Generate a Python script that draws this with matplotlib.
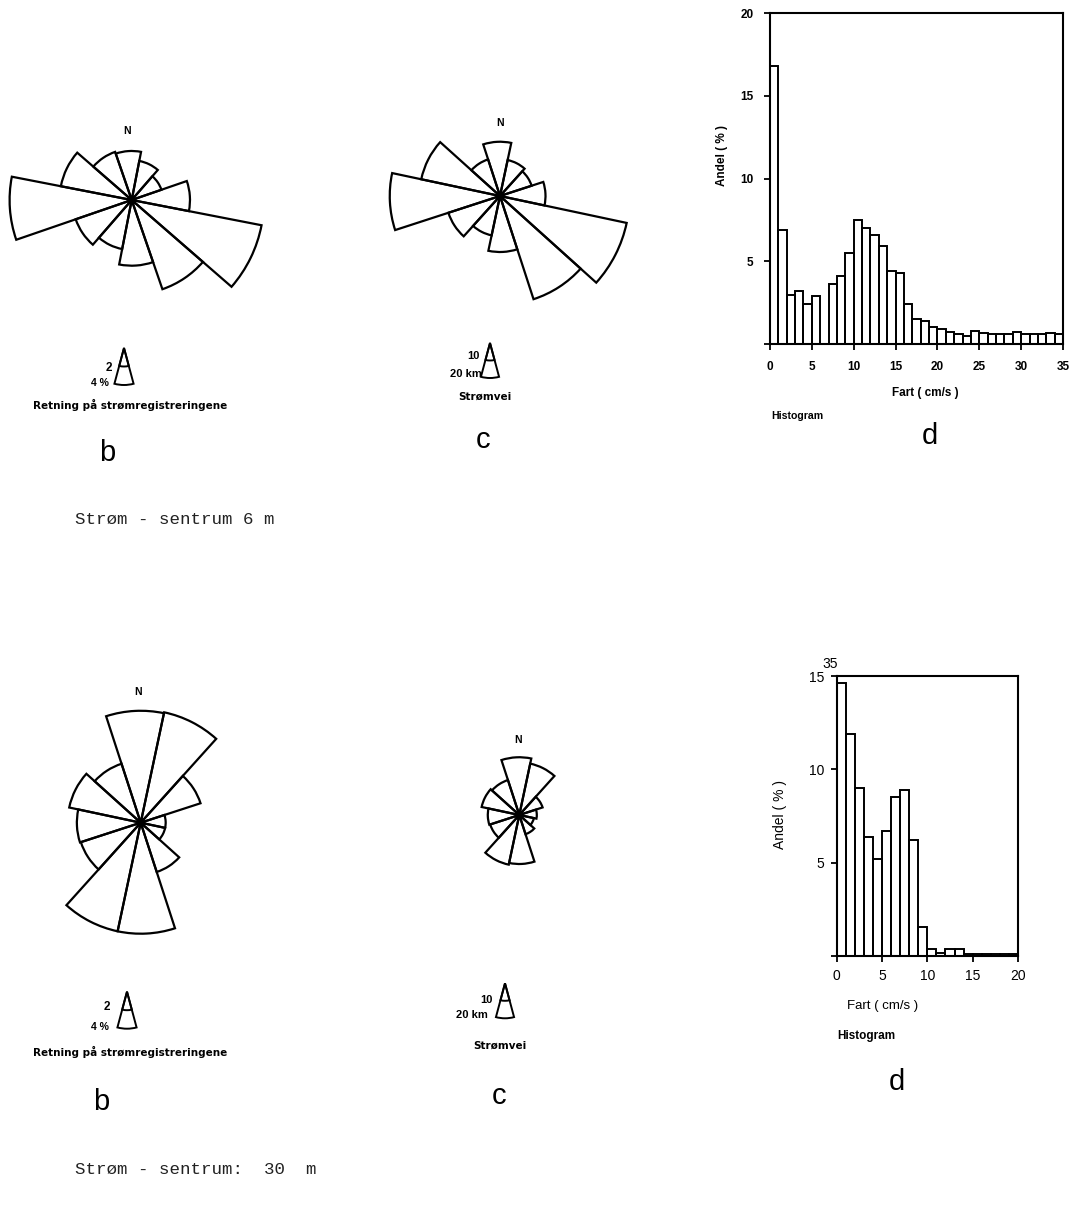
import numpy as np
import matplotlib
matplotlib.use("Agg")
import matplotlib.pyplot as plt

plt.rcParams['font.family'] = ['Liberation Sans', 'DejaVu Sans']

W, H = 1078, 1211

# sector directions, degrees from north (clockwise), 30 degree sectors
sektor = [0, 30, 60, 90, 120, 150, 180, 210, 240, 270, 300, 330]

# 6 m: direction of the current records (%) and current path (km)
retning_6m = [5.3, 4.3, 3.4, 6.3, 14.3, 10.2, 7.1, 5.4, 6.4, 13.2, 7.8, 5.5]
stromvei_6m = [31, 21, 19, 26, 74, 62, 32, 23, 31, 63, 46, 22]

# 30 m
retning_30m = [12.1, 12.2, 6.8, 2.7, 2.7, 5.6, 12.0, 12.0, 6.8, 6.9, 7.9, 6.7]
stromvei_30m = [33, 30, 14, 10, 8.5, 11.5, 28, 29, 17.5, 18, 22, 21]

# speed histograms, 1 cm/s bins starting at 0
andel_6m = [16.8, 6.9, 2.95, 3.2, 2.4, 2.9, 0, 3.6, 4.1, 5.5, 7.5, 7.0, 6.6, 5.9,
            4.4, 4.3, 2.4, 1.5, 1.4, 1.05, 0.9, 0.73, 0.6, 0.5, 0.8, 0.65, 0.6,
            0.6, 0.6, 0.7, 0.6, 0.6, 0.6, 0.65, 0.6]
andel_30m = [14.6, 11.9, 9.0, 6.4, 5.2, 6.7, 8.5, 8.9, 6.2, 1.55, 0.35, 0.15,
             0.35, 0.35, 0.12, 0.12, 0.12, 0.12, 0.12, 0.12]

# scale keys
nokkel_pst = [4, 2]
nokkel_km = [20, 10]

PX_PST = 9.25   # pixels per %
PX_KM = 1.75    # pixels per km

fig = plt.figure(figsize=(W / 100, H / 100), dpi=100)


def fx(x):
    return x / W


def fy(y):
    return 1 - y / H


def polar_ax(cx, cy, half):
    ax = fig.add_axes([(cx - half) / W, (H - cy - half) / H, 2 * half / W, 2 * half / H],
                      projection='polar')
    ax.set_theta_zero_location('N')
    ax.set_theta_direction(-1)
    ax.set_axis_off()
    return ax


def rose(cx, cy, verdier, skala, rot=3, half=160):
    ax = polar_ax(cx, cy, half)
    ax.set_theta_zero_location('N', offset=rot)
    ax.bar(np.radians(sektor), verdier, width=np.radians(30), fill=False,
           edgecolor='black', linewidth=1.6, clip_on=False)
    ax.set_ylim(0, half / skala)


def nokkel(cx, cy, verdier, skala, half=45):
    ax = polar_ax(cx, cy, half)
    ax.bar([np.pi] * len(verdier), verdier, width=np.radians(30), fill=False,
           edgecolor='black', linewidth=1.4, clip_on=False)
    ax.set_ylim(0, half / skala)


def histogram(left, right, bottom, top, verdier, xmax, ymax, yticks, bold, fs, pad):
    ax = fig.add_axes([left / W, (H - bottom) / H, (right - left) / W, (bottom - top) / H])
    ax.bar(np.arange(len(verdier)), verdier, width=1, align='edge', fill=False,
           edgecolor='black', linewidth=1.4)
    ax.set_xlim(0, xmax)
    ax.set_ylim(0, ymax)
    ax.set_xticks(range(0, xmax + 1, 5))
    ax.set_yticks(yticks)
    ax.set_yticklabels([''] + [str(t) for t in yticks[1:]])
    w = 'bold' if bold else 'normal'
    ax.tick_params(direction='out', length=4, width=1.3, labelsize=fs, pad=pad)
    for lab in ax.get_xticklabels() + ax.get_yticklabels():
        lab.set_fontweight(w)
    for s in ax.spines.values():
        s.set_linewidth(1.5)
    return ax


liten = dict(fontsize=7.5, fontweight='bold', family='DejaVu Sans', ha='center', va='center')
mono = dict(fontsize=12.6, family='Liberation Mono', color='#222222', ha='left', va='center')

# ---- 6 m ----
rose(131.7, 200, retning_6m, PX_PST, rot=4)
rose(500, 196, stromvei_6m, PX_KM, rot=3)
fig.text(fx(127), fy(131), 'N', fontsize=7.5, fontweight='bold', ha='center', va='center')
fig.text(fx(500), fy(123), 'N', fontsize=7.5, fontweight='bold', ha='center', va='center')

nokkel(124, 348, nokkel_pst, PX_PST)
fig.text(fx(109), fy(368), '2', fontsize=8.5, fontweight='bold', ha='center', va='center')
fig.text(fx(100), fy(383), '4 %', fontsize=7.5, fontweight='bold', ha='center', va='center')
fig.text(fx(130), fy(405), 'Retning på strømregistreringene', **liten)

nokkel(490, 343, nokkel_km, PX_KM)
fig.text(fx(473), fy(356), '10', fontsize=8, fontweight='bold', ha='center', va='center')
fig.text(fx(466), fy(374), '20 km', fontsize=8, fontweight='bold', ha='center', va='center')
fig.text(fx(485), fy(397), 'Strømvei', **liten)

ax = histogram(770, 1063, 344, 13.3, andel_6m, 35, 20, [0, 5, 10, 15, 20], True, 8.5, 8)
ax.set_xlabel('Fart ( cm/s )', fontsize=8.5, fontweight='bold')
ax.xaxis.set_label_coords(0.529, -0.13)
ax.set_ylabel('Andel ( % )', fontsize=8.5, fontweight='bold')
ax.yaxis.set_label_coords(-0.143, 0.571)
fig.text(fx(797), fy(416), 'Histogram', fontsize=7.6, fontweight='bold', ha='center', va='center')

fig.text(fx(107), fy(453), 'b', fontsize=21, ha='center', va='center')
fig.text(fx(483), fy(440), 'c', fontsize=21, ha='center', va='center')
fig.text(fx(930), fy(436), 'd', fontsize=21, ha='center', va='center')
fig.text(fx(75), fy(520), 'Strøm - sentrum 6 m', **mono)

# ---- 30 m ----
rose(140.7, 822.7, retning_30m, PX_PST, rot=3)
rose(519.3, 815, stromvei_30m, PX_KM, rot=3)
fig.text(fx(138), fy(692), 'N', fontsize=7.5, fontweight='bold', ha='center', va='center')
fig.text(fx(518), fy(740), 'N', fontsize=7.5, fontweight='bold', ha='center', va='center')

nokkel(127, 991.7, nokkel_pst, PX_PST)
fig.text(fx(107), fy(1007), '2', fontsize=8.5, fontweight='bold', ha='center', va='center')
fig.text(fx(100), fy(1027), '4 %', fontsize=7.5, fontweight='bold', ha='center', va='center')
fig.text(fx(130), fy(1052), 'Retning på strømregistreringene', **liten)

nokkel(505, 983.3, nokkel_km, PX_KM)
fig.text(fx(486), fy(1000), '10', fontsize=8, fontweight='bold', ha='center', va='center')
fig.text(fx(472), fy(1015), '20 km', fontsize=8, fontweight='bold', ha='center', va='center')
fig.text(fx(500), fy(1046), 'Strømvei', **liten)

ax = histogram(836.7, 1018, 956, 676, andel_30m, 20, 15, [0, 5, 10, 15], False, 10, 5)
ax.set_xlabel('Fart ( cm/s )', fontsize=9.5)
ax.xaxis.set_label_coords(0.255, -0.157)
ax.set_ylabel('Andel ( % )', fontsize=10)
ax.yaxis.set_label_coords(-0.274, 0.504)
fig.text(fx(830), fy(664), '35', fontsize=10, ha='center', va='center')
fig.text(fx(866), fy(1036), 'Histogram', fontsize=8.5, fontweight='bold', ha='center', va='center')

fig.text(fx(101), fy(1102), 'b', fontsize=21, ha='center', va='center')
fig.text(fx(499), fy(1096), 'c', fontsize=21, ha='center', va='center')
fig.text(fx(897), fy(1082), 'd', fontsize=21, ha='center', va='center')
fig.text(fx(75), fy(1170), 'Strøm - sentrum:  30  m', **mono)

fig.savefig('out.png', dpi=100, facecolor='white')
